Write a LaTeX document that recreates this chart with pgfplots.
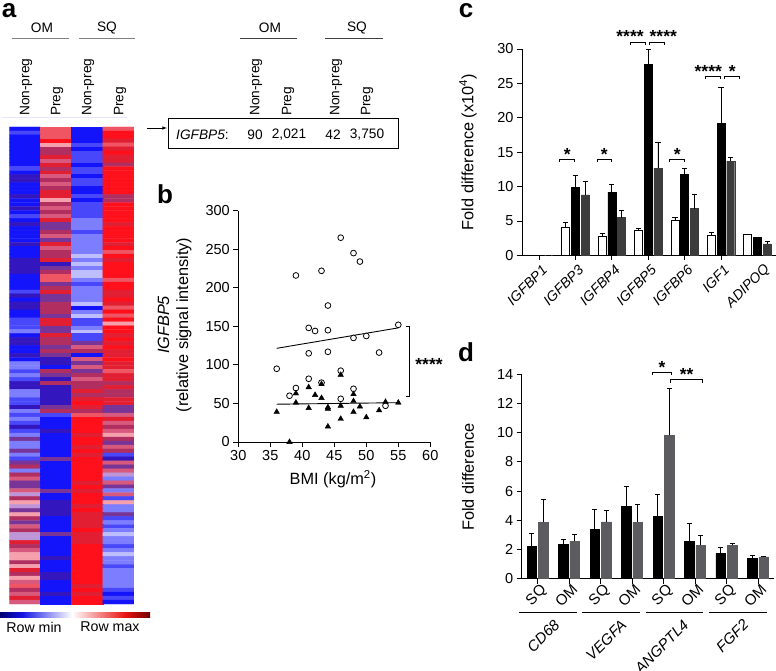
\documentclass[border=0pt]{standalone}
\usepackage{fontspec}
\setmainfont{Liberation Sans}
\usepackage{pgfplots}
\usepackage{pgfplotstable}
\pgfplotsset{compat=1.18}

\definecolor{darkbar}{RGB}{60,60,60}
\definecolor{midbar}{RGB}{92,92,96}

% panel c
\pgfplotstableread{
x w ew b eb g eg
0 0 0 0 0 0 0
1 4.1 0.7 9.9 1.8 8.8 1.9
2 2.75 0.45 9.2 1.2 5.5 1.0
3 3.7 0.2 27.8 2.1 12.7 3.8
4 5.1 0.4 11.8 0.9 6.8 2.1
5 2.85 0.45 19.2 5.2 13.7 0.5
6 3.0 0.05 2.6 0.1 1.7 0.4
}\tablec

% panel d
\pgfplotstableread{
x b eb g eg
0 2.2 0.93 3.86 1.54
1 2.33 0.34 2.56 0.44
2 3.38 1.39 3.9 0.8
3 4.95 1.4 3.86 1.24
4 4.27 1.51 9.82 3.18
5 2.56 1.21 2.28 0.67
6 1.76 0.41 2.3 0.14
7 1.37 0.23 1.5 0.03
}\tabled

\pgfplotsset{
  panel/.style={
    scale only axis,
    axis x line=bottom, axis y line=left,
    axis line style={-, line width=0.9pt},
    tick style={black, line width=0.8pt},
    major tick length=5pt,
    tick align=outside,
    tick label style={font=\fontsize{14.5}{16}\selectfont},
    label style={font=\fontsize{16.3}{19}\selectfont},
    /pgf/number format/assume math mode=true,
    clip=false,
  },
  err/.style={
    error bars/.cd, y dir=plus, y explicit,
    error bar style={black, line width=0.8pt},
    error mark options={rotate=90, mark size=2.6pt, line width=0.8pt, black},
  },
}

\newcommand{\stars}[3]{\node[anchor=base, inner sep=0pt, font=\fontsize{17.5}{19}\selectfont\bfseries] at (#1,#2+10) {#3};}
\newcommand{\brk}[4]{\draw[line width=0.9pt] (#1,#3+#4) -- (#1,#3) -- (#2,#3) -- (#2,#3+#4);}

\begin{document}
\begin{tikzpicture}
\useasboundingbox (0,0) rectangle (776pt,671pt);

% a: heatmap, one line per row
\begin{axis}[
  at={(9.3pt,67pt)}, anchor=south west, scale only axis,
  width=124.7pt, height=477pt, hide axis,
  xmin=-0.5, xmax=3.5, ymin=-0.5, ymax=119.5, y dir=reverse,
  colormap={hm}{rgb255=(190,190,255) rgb255=(125,125,255) rgb255=(72,72,250)
    rgb255=(20,20,250) rgb255=(52,22,190) rgb255=(120,52,150) rgb255=(176,46,96)
    rgb255=(226,30,50) rgb255=(255,16,26) rgb255=(240,85,100) rgb255=(245,160,172)
    rgb255=(190,150,215) rgb255=(215,90,125)},
  point meta min=0, point meta max=12,
]
\addplot[matrix plot*, mesh/cols=4, point meta=explicit] coordinates {
(0,0)[3] (1,0)[9] (2,0)[3] (3,0)[9]
(0,1)[2] (1,1)[9] (2,1)[3] (3,1)[8]
(0,2)[3] (1,2)[9] (2,2)[3] (3,2)[8]
(0,3)[3] (1,3)[8] (2,3)[3] (3,3)[7]
(0,4)[3] (1,4)[10] (2,4)[2] (3,4)[9]
(0,5)[3] (1,5)[6] (2,5)[3] (3,5)[7]
(0,6)[3] (1,6)[6] (2,6)[2] (3,6)[8]
(0,7)[3] (1,7)[7] (2,7)[2] (3,7)[7]
(0,8)[3] (1,8)[12] (2,8)[2] (3,8)[7]
(0,9)[3] (1,9)[7] (2,9)[3] (3,9)[6]
(0,10)[2] (1,10)[6] (2,10)[2] (3,10)[8]
(0,11)[3] (1,11)[7] (2,11)[2] (3,11)[8]
(0,12)[4] (1,12)[12] (2,12)[3] (3,12)[8]
(0,13)[4] (1,13)[6] (2,13)[2] (3,13)[8]
(0,14)[3] (1,14)[12] (2,14)[2] (3,14)[8]
(0,15)[3] (1,15)[6] (2,15)[3] (3,15)[8]
(0,16)[3] (1,16)[7] (2,16)[3] (3,16)[8]
(0,17)[4] (1,17)[7] (2,17)[2] (3,17)[6]
(0,18)[3] (1,18)[10] (2,18)[3] (3,18)[6]
(0,19)[3] (1,19)[6] (2,19)[2] (3,19)[8]
(0,20)[4] (1,20)[12] (2,20)[2] (3,20)[8]
(0,21)[3] (1,21)[6] (2,21)[2] (3,21)[8]
(0,22)[2] (1,22)[12] (2,22)[2] (3,22)[8]
(0,23)[3] (1,23)[7] (2,23)[1] (3,23)[8]
(0,24)[4] (1,24)[5] (2,24)[1] (3,24)[7]
(0,25)[3] (1,25)[5] (2,25)[1] (3,25)[8]
(0,26)[3] (1,26)[6] (2,26)[2] (3,26)[8]
(0,27)[3] (1,27)[12] (2,27)[1] (3,27)[8]
(0,28)[3] (1,28)[5] (2,28)[1] (3,28)[8]
(0,29)[4] (1,29)[7] (2,29)[1] (3,29)[7]
(0,30)[3] (1,30)[12] (2,30)[1] (3,30)[8]
(0,31)[3] (1,31)[6] (2,31)[1] (3,31)[9]
(0,32)[3] (1,32)[6] (2,32)[0] (3,32)[8]
(0,33)[4] (1,33)[7] (2,33)[1] (3,33)[7]
(0,34)[4] (1,34)[4] (2,34)[0] (3,34)[8]
(0,35)[4] (1,35)[5] (2,35)[1] (3,35)[8]
(0,36)[4] (1,36)[6] (2,36)[0] (3,36)[8]
(0,37)[3] (1,37)[9] (2,37)[0] (3,37)[8]
(0,38)[3] (1,38)[9] (2,38)[1] (3,38)[9]
(0,39)[3] (1,39)[5] (2,39)[2] (3,39)[8]
(0,40)[3] (1,40)[6] (2,40)[1] (3,40)[8]
(0,41)[2] (1,41)[7] (2,41)[1] (3,41)[7]
(0,42)[4] (1,42)[5] (2,42)[1] (3,42)[7]
(0,43)[3] (1,43)[5] (2,43)[1] (3,43)[8]
(0,44)[4] (1,44)[6] (2,44)[0] (3,44)[7]
(0,45)[4] (1,45)[6] (2,45)[3] (3,45)[9]
(0,46)[3] (1,46)[6] (2,46)[1] (3,46)[8]
(0,47)[3] (1,47)[5] (2,47)[0] (3,47)[9]
(0,48)[2] (1,48)[7] (2,48)[2] (3,48)[8]
(0,49)[2] (1,49)[7] (2,49)[2] (3,49)[10]
(0,50)[2] (1,50)[5] (2,50)[1] (3,50)[8]
(0,51)[1] (1,51)[5] (2,51)[0] (3,51)[8]
(0,52)[3] (1,52)[7] (2,52)[2] (3,52)[7]
(0,53)[4] (1,53)[6] (2,53)[2] (3,53)[8]
(0,54)[4] (1,54)[6] (2,54)[5] (3,54)[7]
(0,55)[3] (1,55)[5] (2,55)[12] (3,55)[8]
(0,56)[3] (1,56)[6] (2,56)[6] (3,56)[7]
(0,57)[4] (1,57)[5] (2,57)[3] (3,57)[7]
(0,58)[3] (1,58)[4] (2,58)[12] (3,58)[8]
(0,59)[1] (1,59)[4] (2,59)[5] (3,59)[7]
(0,60)[1] (1,60)[3] (2,60)[12] (3,60)[7]
(0,61)[2] (1,61)[6] (2,61)[5] (3,61)[9]
(0,62)[1] (1,62)[5] (2,62)[6] (3,62)[7]
(0,63)[2] (1,63)[4] (2,63)[12] (3,63)[7]
(0,64)[4] (1,64)[6] (2,64)[6] (3,64)[6]
(0,65)[4] (1,65)[4] (2,65)[6] (3,65)[7]
(0,66)[1] (1,66)[4] (2,66)[7] (3,66)[6]
(0,67)[1] (1,67)[4] (2,67)[6] (3,67)[6]
(0,68)[2] (1,68)[4] (2,68)[7] (3,68)[7]
(0,69)[2] (1,69)[4] (2,69)[8] (3,69)[7]
(0,70)[4] (1,70)[5] (2,70)[7] (3,70)[5]
(0,71)[1] (1,71)[6] (2,71)[6] (3,71)[5]
(0,72)[2] (1,72)[2] (2,72)[9] (3,72)[12]
(0,73)[1] (1,73)[3] (2,73)[8] (3,73)[7]
(0,74)[2] (1,74)[3] (2,74)[8] (3,74)[12]
(0,75)[4] (1,75)[3] (2,75)[8] (3,75)[6]
(0,76)[2] (1,76)[4] (2,76)[8] (3,76)[12]
(0,77)[1] (1,77)[3] (2,77)[7] (3,77)[10]
(0,78)[5] (1,78)[3] (2,78)[8] (3,78)[6]
(0,79)[1] (1,79)[3] (2,79)[8] (3,79)[5]
(0,80)[1] (1,80)[3] (2,80)[7] (3,80)[12]
(0,81)[5] (1,81)[3] (2,81)[8] (3,81)[6]
(0,82)[1] (1,82)[3] (2,82)[7] (3,82)[2]
(0,83)[2] (1,83)[5] (2,83)[8] (3,83)[4]
(0,84)[5] (1,84)[3] (2,84)[8] (3,84)[12]
(0,85)[6] (1,85)[3] (2,85)[8] (3,85)[5]
(0,86)[1] (1,86)[3] (2,86)[8] (3,86)[12]
(0,87)[6] (1,87)[3] (2,87)[8] (3,87)[11]
(0,88)[12] (1,88)[3] (2,88)[8] (3,88)[1]
(0,89)[5] (1,89)[3] (2,89)[7] (3,89)[12]
(0,90)[5] (1,90)[3] (2,90)[8] (3,90)[5]
(0,91)[12] (1,91)[5] (2,91)[7] (3,91)[1]
(0,92)[11] (1,92)[3] (2,92)[8] (3,92)[12]
(0,93)[6] (1,93)[3] (2,93)[8] (3,93)[2]
(0,94)[10] (1,94)[4] (2,94)[8] (3,94)[10]
(0,95)[11] (1,95)[4] (2,95)[7] (3,95)[1]
(0,96)[5] (1,96)[4] (2,96)[8] (3,96)[1]
(0,97)[10] (1,97)[4] (2,97)[7] (3,97)[5]
(0,98)[6] (1,98)[3] (2,98)[7] (3,98)[2]
(0,99)[5] (1,99)[3] (2,99)[7] (3,99)[1]
(0,100)[12] (1,100)[3] (2,100)[7] (3,100)[2]
(0,101)[6] (1,101)[3] (2,101)[8] (3,101)[1]
(0,102)[11] (1,102)[5] (2,102)[7] (3,102)[0]
(0,103)[11] (1,103)[3] (2,103)[7] (3,103)[1]
(0,104)[7] (1,104)[3] (2,104)[7] (3,104)[1]
(0,105)[6] (1,105)[3] (2,105)[8] (3,105)[2]
(0,106)[12] (1,106)[3] (2,106)[8] (3,106)[1]
(0,107)[10] (1,107)[3] (2,107)[8] (3,107)[0]
(0,108)[10] (1,108)[4] (2,108)[8] (3,108)[1]
(0,109)[6] (1,109)[3] (2,109)[8] (3,109)[1]
(0,110)[10] (1,110)[3] (2,110)[8] (3,110)[2]
(0,111)[7] (1,111)[3] (2,111)[8] (3,111)[1]
(0,112)[6] (1,112)[4] (2,112)[8] (3,112)[1]
(0,113)[10] (1,113)[4] (2,113)[8] (3,113)[1]
(0,114)[12] (1,114)[3] (2,114)[8] (3,114)[1]
(0,115)[9] (1,115)[3] (2,115)[7] (3,115)[1]
(0,116)[6] (1,116)[3] (2,116)[8] (3,116)[2]
(0,117)[12] (1,117)[4] (2,117)[7] (3,117)[3]
(0,118)[7] (1,118)[3] (2,118)[8] (3,118)[2]
(0,119)[12] (1,119)[3] (2,119)[8] (3,119)[3]
};
\end{axis}

% b: scatter
\begin{axis}[
  panel,
  at={(238.3pt,229pt)}, anchor=south west,
  width=192pt, height=231.3pt,
  xmin=30, xmax=60, ymin=0, ymax=300,
  xtick={30,35,...,60}, ytick={0,50,...,300},
  xlabel={BMI (kg/m\textsuperscript{2})},
  xlabel style={at={(axis description cs:0.493,-0.16)}, anchor=center},
  ylabel={\textit{IGFBP5}\\(relative signal intensity)},
  ylabel style={at={(axis description cs:-0.332,0.506)}, anchor=center, align=center},
]
\addplot[only marks, mark=*, mark size=2.9pt, mark options={fill=white, draw=black, line width=0.8pt}] coordinates {
  (36,95) (38,60) (39,70) (39,216) (41,148) (42,144) (41,115) (41,82)
  (43,222) (43,77) (44,177) (44,145) (44,117) (46,265) (46,92.5) (46,56)
  (48,245) (49,234) (48,135) (50,137.5) (48,69) (52,116) (53,47) (55,152)
};
\addplot[only marks, mark=triangle*, mark size=3.2pt, mark options={fill=black, draw=black}] coordinates {
  (36,39) (38,0) (39,63) (39,51) (41,71) (41,44) (42,61) (43,75) (43,57)
  (44,45) (44,43) (44,20) (46,87) (46,47) (46,30) (48,62) (48,53) (48,39)
  (49,46) (50,32) (52,41) (53,52) (55,51)
};
\addplot[black, line width=0.9pt] coordinates {(36,121.5) (55,148)};
\addplot[black, line width=0.9pt] coordinates {(36,49) (55,51)};
\end{axis}

% c: bars
\begin{axis}[
  panel,
  at={(522pt,415.5pt)}, anchor=south west,
  width=254pt, height=206.5pt,
  xmin=-0.467, xmax=6.511, ymin=0, ymax=30,
  ytick={0,5,...,30},
  xtick={0,...,5}, xticklabels={IGFBP1,IGFBP3,IGFBP4,IGFBP5,IGFBP6,IGF1},
  extra x ticks={6}, extra x tick labels={ADIPOQ},
  extra x tick style={major tick length=0pt, xticklabel style={yshift=-5pt}},
  xticklabel style={rotate=45, anchor=north east, font=\fontsize{14}{16}\selectfont\itshape, inner sep=1pt, yshift=-3pt},
  ylabel={Fold difference (x10\textsuperscript{4})},
  ylabel style={at={(axis description cs:-0.2126,0.501)}, anchor=center},
]
\addplot[ybar, bar width=8pt, bar shift=0pt, fill=white, draw=black, line width=0.8pt, err]
  table[x expr=\thisrow{x}-0.2665, y=w, y error=ew] {\tablec};
\addplot[ybar, bar width=8pt, bar shift=0pt, fill=black, draw=black, err]
  table[x=x, y=b, y error=eb] {\tablec};
\addplot[ybar, bar width=8pt, bar shift=0pt, fill=darkbar, draw=darkbar, err]
  table[x expr=\thisrow{x}+0.2665, y=g, y error=eg] {\tablec};
\end{axis}

% d: bars
\begin{axis}[
  panel,
  at={(521.7pt,92.3pt)}, anchor=south west,
  width=252pt, height=204.4pt,
  xmin=-0.5, xmax=7.5, ymin=0, ymax=14,
  ytick={0,2,...,14},
  xtick={0,...,7}, xticklabels={SQ,OM,SQ,OM,SQ,OM,SQ,OM},
  xticklabel style={rotate=45, anchor=north east, inner sep=1pt, xshift=3pt, font=\fontsize{15}{16}\selectfont},
  ylabel={Fold difference},
  ylabel style={at={(axis description cs:-0.213,0.4976)}, anchor=center},
]
\addplot[ybar, bar width=9.5pt, bar shift=0pt, fill=black, draw=black, err]
  table[x expr=\thisrow{x}-0.181, y=b, y error=eb] {\tabled};
\addplot[ybar, bar width=9.5pt, bar shift=0pt, fill=midbar, draw=midbar, err]
  table[x expr=\thisrow{x}+0.181, y=g, y error=eg] {\tabled};
\end{axis}

% everything else in reference pixel coordinates
\begin{scope}[x=1pt, y=-1pt, yshift=671pt]
  % panel letters
  \foreach \l/\px/\py in {a/9/11, b/165/194, c/466/11, d/466/352}
    \node[font=\fontsize{26}{28}\selectfont\bfseries, inner sep=0pt] at (\px,\py) {\l};

  % a: column heads
  \begin{scope}[font=\fontsize{13.7}{16}\selectfont]
    \node at (42,28) {OM};
    \node at (107,28) {SQ};
    \node at (270,28) {OM};
    \node at (357,28) {SQ};
    \foreach \px/\txt in {26/Non-preg, 57/Preg, 88/Non-preg, 120/Preg,
                          256/Non-preg, 288/Preg, 336/Non-preg, 367/Preg}
      \node[rotate=90, anchor=west, inner sep=0pt] at (\px,116) {\txt};
    \node[anchor=west, inner sep=0pt] at (176,134.5) {\textit{IGFBP5}:};
    \node at (255,134.5) {90};
    \node at (289,134.5) {2,021};
    \node at (333,134.5) {42};
    \node at (367,134.5) {3,750};
    \node[font=\fontsize{14.2}{16}\selectfont] at (34,627) {Row min};
    \node[font=\fontsize{14.2}{16}\selectfont] at (110,627) {Row max};
  \end{scope}
  \draw[gray, line width=0.9pt] (12,38.7) -- (69,38.7) (79,38.7) -- (135,38.7);
  \draw[black!75, line width=0.7pt] (240,38) -- (297,38) (325,38) -- (383,38);
  \draw[blue!10, line width=0.5pt] (2,117) -- (127,117);
  \draw[line width=0.9pt] (168.3,118.7) rectangle (398.3,148.7);
  \draw[-latex, line width=0.6pt] (147,128) -- (167,128);

  % a: colour key
  \shade[left color={rgb,255:red,0;green,0;blue,110}, right color={rgb,255:red,20;green,20;blue,230}] (0,612.5) rectangle (22,617.5);
  \shade[left color={rgb,255:red,20;green,20;blue,230}, right color=white] (22,612.5) rectangle (72,617.5);
  \shade[left color=white, right color={rgb,255:red,235;green,20;blue,20}] (72,612.5) rectangle (125,617.5);
  \shade[left color={rgb,255:red,235;green,20;blue,20}, right color={rgb,255:red,110;green,0;blue,0}] (125,612.5) rectangle (150,617.5);

  % b: significance
  \draw[line width=0.8pt] (406,326.3) -- (409.5,326.3) -- (409.5,396.3) -- (406,396.3);
  \stars{429}{361}{****}

  % c: significance
  \brk{559.7}{574.3}{159.7}{2.2} \stars{567.3}{151}{*}
  \brk{597}{611.7}{159.7}{2.2} \stars{604.3}{151}{*}
  \brk{669.7}{684.7}{159.7}{2.2} \stars{677.3}{151}{*}
  \brk{630.3}{645.3}{42.7}{2.2} \stars{630}{33}{****}
  \brk{649.3}{664.3}{42.7}{2.2} \stars{663.3}{33}{****}
  \brk{705.7}{720.7}{76.7}{2.2} \stars{708.3}{68}{****}
  \brk{724.3}{739.3}{76.7}{2.2} \stars{732.3}{68}{*}

  % d: significance
  \brk{652.3}{671.3}{372}{3} \stars{662}{363.3}{*}
  \brk{670.3}{702.3}{379.3}{3.4} \stars{686.7}{371}{**}

  % d: gene groups
  \draw[line width=0.7pt] (519,612) -- (577,612) (582,612) -- (640,612) (646,612) -- (703,612) (709,612) -- (767,612);
  \begin{scope}[font=\fontsize{15}{16}\selectfont\itshape]
    \foreach \px/\txt in {553/CD68, 620/VEGFA, 682/ANGPTL4, 742/FGF2}
      \node[rotate=45, anchor=north east, inner sep=1pt] at (\px,617) {\txt};
  \end{scope}
\end{scope}
\end{tikzpicture}
\end{document}
